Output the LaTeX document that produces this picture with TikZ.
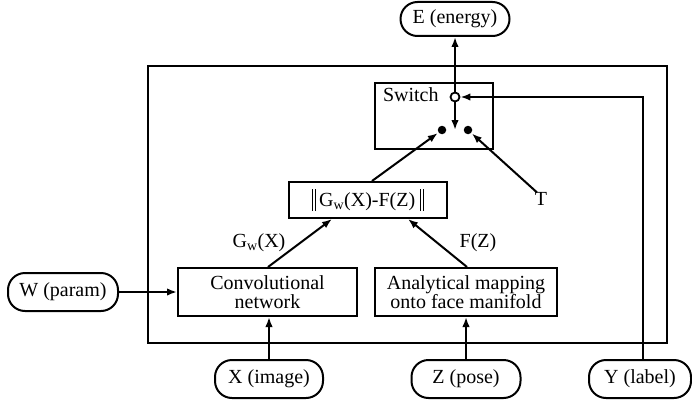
\documentclass[tikz,border=0pt]{standalone}
\usepackage{fontspec}
\setmainfont{Liberation Serif}
\usetikzlibrary{arrows.meta}
\newcommand{\dblbar}{\rule[-0.22em]{0.8pt}{1.1em}\hspace{1.8pt}\rule[-0.22em]{0.8pt}{1.1em}}
\begin{document}
\begin{tikzpicture}[x=1pt,y=-1pt, line width=2pt,
  font=\fontsize{20}{19}\selectfont,
  pill/.style={draw, rounded corners=17pt, minimum height=38pt, inner sep=0pt},
  blk/.style={draw, inner sep=0pt, align=center},
  arr/.style={-{Latex[length=10pt,width=7.5pt]}},
  lbl/.style={inner sep=0pt},
  dot/.style={circle, fill, inner sep=0pt, minimum size=8.5pt}]
\useasboundingbox (0,0) rectangle (692,401);
% outer frame
\node[blk, minimum width=519pt, minimum height=277pt] (outer) at (407.5,204.5) {};
% switch
\node[blk, minimum width=118pt, minimum height=66pt] (switch) at (434,116) {};
\node[lbl, anchor=base west] (swlbl) at (382,101) {Switch};
\node[circle, draw, fill=white, inner sep=0pt, minimum size=9pt, line width=1.8pt] (circ) at (455,97) {};
\node[dot] (dotL) at (442,130) {};
\node[dot] (dotR) at (468,130) {};
\coordinate (swdown) at (455,130);
% energy
\node[pill, minimum width=109pt, minimum height=34pt] (E) at (455,19) {E (energy)};
% norm box
\node[blk, minimum width=158pt, minimum height=36pt] (norm) at (368,200) {\dblbar\,G\textsubscript{w}(X)-F(Z) \dblbar};
\node[lbl] (T) at (541,199) {T};
% modules
\node[blk, minimum width=179pt, minimum height=48pt] (conv) at (267.5,292) {Convolutional\\network};
\node[blk, minimum width=182pt, minimum height=48pt] (ana) at (466,292) {Analytical mapping\\onto face manifold};
\node[lbl] (glbl) at (259,243) {G\textsubscript{w}(X)};
\node[lbl] (flbl) at (478,243) {F(Z)};
% inputs
\node[pill, minimum width=110pt] (W) at (63,292) {W (param)};
\node[pill, minimum width=108pt] (X) at (269,379) {X (image)};
\node[pill, minimum width=109pt] (Z) at (466,379) {Z (pose)};
\node[pill, minimum width=102pt] (Y) at (640,379) {Y (label)};
% connectors
\draw[arr] (circ.north) -- (E.south);
\draw[arr] (circ.south) -- (swdown);
\draw[arr] ([xshift=3pt]Y.north) |- (circ.east);
\draw[arr] ([xshift=4pt]norm.north) -- (dotL);
\draw[arr] ([yshift=-1pt,xshift=-4pt]T.north) -- (dotR);
\draw[arr] ([xshift=0.5pt]conv.north) -- ([xshift=-36pt]norm.south);
\draw[arr] ([xshift=1pt]ana.north) -- ([xshift=40pt]norm.south);
\draw[arr] (W.east) -- (conv.west);
\draw[arr] (X.north) -- (X.north |- conv.south);
\draw[arr] (Z.north) -- (Z.north |- ana.south);
\end{tikzpicture}
\end{document}
